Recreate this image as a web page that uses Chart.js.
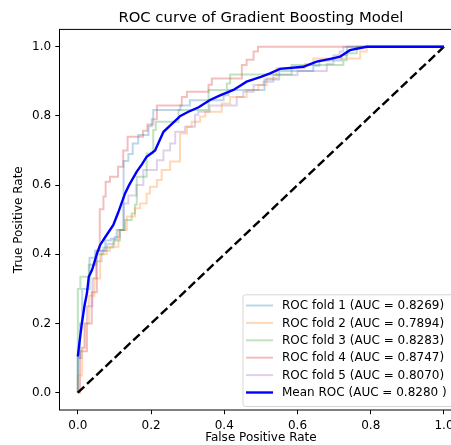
<!DOCTYPE html>
<html><head><meta charset="utf-8">
<script src="https://cdn.jsdelivr.net/npm/chart.js@4.4.0/dist/chart.umd.min.js"></script>
<style>
html,body{margin:0;padding:0;overflow:hidden;background:#fff;width:451px;height:445px}
#wrap{position:absolute;left:0;top:0;width:480px;height:445px}
</style>
</head><body><div id="wrap"><canvas id="c" width="480" height="445"></canvas></div>
<script>
const tickValues = [0, 0.2, 0.4, 0.6, 0.8, 1.0];

const fold1Fpr = [0, 0, 0.006, 0.012, 0.032, 0.047, 0.075, 0.09, 0.106, 0.125, 0.138, 0.15, 0.165, 0.193, 0.202, 0.206, 0.28, 0.306, 0.398, 0.411, 0.51, 0.55, 0.643, 0.66, 0.72, 0.735, 1.0];
const fold1Tpr = [0, 0.1, 0.2, 0.3, 0.39, 0.41, 0.44, 0.445, 0.47, 0.67, 0.69, 0.72, 0.745, 0.77, 0.79, 0.817, 0.83, 0.845, 0.86, 0.875, 0.905, 0.93, 0.945, 0.96, 0.975, 1.0, 1.0];

const fold2Fpr = [0, 0, 0.012, 0.02, 0.03, 0.045, 0.061, 0.079, 0.088, 0.111, 0.134, 0.156, 0.17, 0.188, 0.197, 0.216, 0.229, 0.252, 0.279, 0.298, 0.311, 0.334, 0.348, 0.393, 0.416, 0.461, 0.493, 0.516, 0.543, 0.62, 0.643, 0.771, 0.789, 1.0];
const fold2Tpr = [0, 0.05, 0.13, 0.2, 0.28, 0.33, 0.4, 0.41, 0.422, 0.47, 0.509, 0.533, 0.547, 0.576, 0.595, 0.615, 0.644, 0.668, 0.749, 0.769, 0.783, 0.798, 0.812, 0.836, 0.855, 0.875, 0.889, 0.909, 0.938, 0.95, 0.966, 0.986, 1.0, 1.0];

const fold3Fpr = [0, 0, 0.007, 0.03, 0.05, 0.07, 0.097, 0.115, 0.129, 0.147, 0.156, 0.161, 0.188, 0.206, 0.213, 0.275, 0.357, 0.407, 0.416, 0.584, 0.725, 0.734, 0.762, 1.0];
const fold3Tpr = [0, 0.3, 0.335, 0.37, 0.4, 0.42, 0.44, 0.47, 0.499, 0.518, 0.543, 0.624, 0.691, 0.759, 0.783, 0.817, 0.875, 0.894, 0.92, 0.947, 0.961, 0.981, 1.0, 1.0];

const fold4Fpr = [0, 0.006, 0.025, 0.038, 0.052, 0.06, 0.07, 0.076, 0.088, 0.11, 0.124, 0.136, 0.178, 0.19, 0.206, 0.216, 0.284, 0.298, 0.357, 0.366, 0.448, 0.461, 0.48, 0.492, 1.0];
const fold4Tpr = [0, 0.12, 0.2, 0.29, 0.41, 0.53, 0.567, 0.61, 0.624, 0.653, 0.70, 0.74, 0.757, 0.775, 0.79, 0.83, 0.855, 0.87, 0.89, 0.908, 0.947, 0.962, 0.986, 1.0, 1.0];

const fold5Fpr = [0, 0, 0.01, 0.018, 0.025, 0.04, 0.05, 0.065, 0.08, 0.1, 0.115, 0.125, 0.138, 0.16, 0.179, 0.216, 0.234, 0.252, 0.266, 0.293, 0.32, 0.329, 0.36, 0.434, 0.452, 0.48, 0.507, 0.534, 0.6, 0.68, 0.698, 0.715, 0.725, 1.0];
const fold5Tpr = [0, 0.1, 0.13, 0.2, 0.25, 0.33, 0.38, 0.41, 0.43, 0.45, 0.47, 0.547, 0.57, 0.6, 0.644, 0.672, 0.70, 0.72, 0.754, 0.769, 0.803, 0.812, 0.83, 0.855, 0.87, 0.889, 0.899, 0.918, 0.93, 0.95, 0.975, 0.986, 1.0, 1.0];

const meanFpr = [0, 0.005, 0.011, 0.018, 0.025, 0.03, 0.039, 0.053, 0.061, 0.075, 0.097, 0.11, 0.129, 0.14, 0.161, 0.175, 0.188, 0.211, 0.234, 0.26, 0.28, 0.302, 0.33, 0.361, 0.39, 0.425, 0.461, 0.5, 0.525, 0.552, 0.616, 0.652, 0.69, 0.716, 0.743, 0.789, 1.0];
const meanTpr = [0.104, 0.15, 0.2, 0.25, 0.288, 0.335, 0.355, 0.404, 0.427, 0.45, 0.485, 0.52, 0.576, 0.6, 0.639, 0.66, 0.682, 0.70, 0.754, 0.78, 0.8, 0.812, 0.825, 0.846, 0.86, 0.875, 0.899, 0.913, 0.923, 0.936, 0.942, 0.957, 0.965, 0.971, 0.99, 1.0, 1.0];

const chanceFpr = [0, 1];
const chanceTpr = [0, 1];

const foldLabels = ['ROC fold 1 (AUC = 0.8269)', 'ROC fold 2 (AUC = 0.7894)', 'ROC fold 3 (AUC = 0.8283)', 'ROC fold 4 (AUC = 0.8747)', 'ROC fold 5 (AUC = 0.8070)'];
const meanLabel = 'Mean ROC (AUC = 0.8280 )';
const titleText = 'ROC curve of Gradient Boosting Model';
const xTitleText = 'False Positive Rate';
const yTitleText = 'True Positive Rate';

const foldColors = ['rgba(31,119,180,0.3)', 'rgba(255,127,14,0.3)', 'rgba(44,160,44,0.3)', 'rgba(214,39,40,0.3)', 'rgba(148,103,189,0.3)'];
const FOLD_LW = 2, MEAN_LW = 2.4;

function pts(xs, ys) { return xs.map((x, i) => ({ x: x, y: ys[i] })); }

const foldX = [fold1Fpr, fold2Fpr, fold3Fpr, fold4Fpr, fold5Fpr];
const foldY = [fold1Tpr, fold2Tpr, fold3Tpr, fold4Tpr, fold5Tpr];

const datasets = [];
datasets.push({ label: meanLabel, data: pts(meanFpr, meanTpr), borderColor: '#0000ff', borderWidth: MEAN_LW, order: 0, tension: 0 });
datasets.push({ label: 'Chance', data: pts(chanceFpr, chanceTpr), borderColor: '#000', borderWidth: 2.4, borderDash: [8.9, 3.8], order: 1 });
for (let i = 0; i < 5; i++) {
  datasets.push({ label: foldLabels[i], data: pts(foldX[i], foldY[i]), borderColor: foldColors[i], borderWidth: FOLD_LW, stepped: 'before', order: 2 + i });
}
datasets.forEach(d => { d.showLine = true; d.pointRadius = 0; d.fill = false; d.borderCapStyle = 'butt'; d.borderJoinStyle = 'miter'; });

const frameLegend = {
  id: 'frameLegend',
  afterDraw(chart) {
    const ctx = chart.ctx, a = chart.chartArea;
    ctx.save();
    ctx.strokeStyle = '#000';
    ctx.lineWidth = 1;
    ctx.strokeRect(a.left, a.top, a.right - a.left, a.bottom - a.top);
    const fs = 12;
    ctx.font = fs + 'px "DejaVu Sans"';
    const entries = foldLabels.map((l, i) => ({ text: l, color: foldColors[i], lw: FOLD_LW })).concat([{ text: meanLabel, color: '#0000ff', lw: MEAN_LW }]);
    const right = a.right - 6;
    const bottom = a.bottom - 3.5;
    const top = bottom - 111.7;
    const left = right - 213.3;
    ctx.beginPath();
    const r = 2.4;
    ctx.moveTo(left + r, top);
    ctx.lineTo(right - r, top); ctx.quadraticCurveTo(right, top, right, top + r);
    ctx.lineTo(right, bottom - r); ctx.quadraticCurveTo(right, bottom, right - r, bottom);
    ctx.lineTo(left + r, bottom); ctx.quadraticCurveTo(left, bottom, left, bottom - r);
    ctx.lineTo(left, top + r); ctx.quadraticCurveTo(left, top, left + r, top);
    ctx.closePath();
    ctx.fillStyle = 'rgba(255,255,255,0.8)';
    ctx.fill();
    ctx.strokeStyle = 'rgba(204,204,204,0.8)';
    ctx.lineWidth = 1;
    ctx.stroke();
    entries.forEach((e, i) => {
      const y = top + 10.7 + i * 17.4;
      ctx.beginPath();
      ctx.strokeStyle = e.color;
      ctx.lineWidth = e.lw;
      ctx.moveTo(left + 3, y);
      ctx.lineTo(left + 30, y);
      ctx.stroke();
      ctx.fillStyle = '#000';
      ctx.textAlign = 'left';
      ctx.textBaseline = 'middle';
      ctx.fillText(e.text, left + 39, y + 0.5);
    });
    ctx.restore();
  }
};

Chart.defaults.font.family = '"DejaVu Sans"';
Chart.defaults.color = '#000';

new Chart(document.getElementById('c'), {
  type: 'scatter',
  data: { datasets: datasets },
  options: {
    responsive: false,
    animation: false,
    events: [],
    layout: { padding: { left: 0, top: 0, right: 17.7, bottom: 0 } },
    plugins: {
      legend: { display: false },
      tooltip: { enabled: false },
      title: {
        display: true, text: titleText, fullSize: false,
        font: { size: 14.8, weight: 'normal' }, color: '#000',
        padding: { top: 8.8, bottom: 2.85 }
      }
    },
    scales: {
      x: {
        type: 'linear', position: 'bottom', min: -0.05, max: 1.05,
        afterBuildTicks: s => { s.ticks = tickValues.map(v => ({ value: v })); },
        afterFit: s => { s.height = 35; },
        ticks: { callback: v => v.toFixed(1), font: { size: 12 }, color: '#000', padding: 4.2, maxRotation: 0, autoSkip: false },
        grid: { display: true, drawOnChartArea: false, drawTicks: true, tickLength: 4.2, tickColor: '#000', tickWidth: 1 },
        border: { display: false },
        title: { display: true, text: xTitleText, font: { size: 12 }, color: '#000', padding: { top: 0, bottom: 0 } }
      },
      y: {
        type: 'linear', position: 'left', min: -0.05, max: 1.05,
        afterBuildTicks: s => { s.ticks = tickValues.map(v => ({ value: v })); },
        afterFit: s => { s.width = 59.5; },
        ticks: { callback: v => v.toFixed(1), font: { size: 12 }, color: '#000', padding: 4.2, autoSkip: false },
        grid: { display: true, drawOnChartArea: false, drawTicks: true, tickLength: 4.2, tickColor: '#000', tickWidth: 1 },
        border: { display: false },
        title: { display: true, text: yTitleText, font: { size: 12 }, color: '#000', padding: { top: 11.6, bottom: 0 } }
      }
    }
  },
  plugins: [frameLegend]
});
</script>
</body></html>
